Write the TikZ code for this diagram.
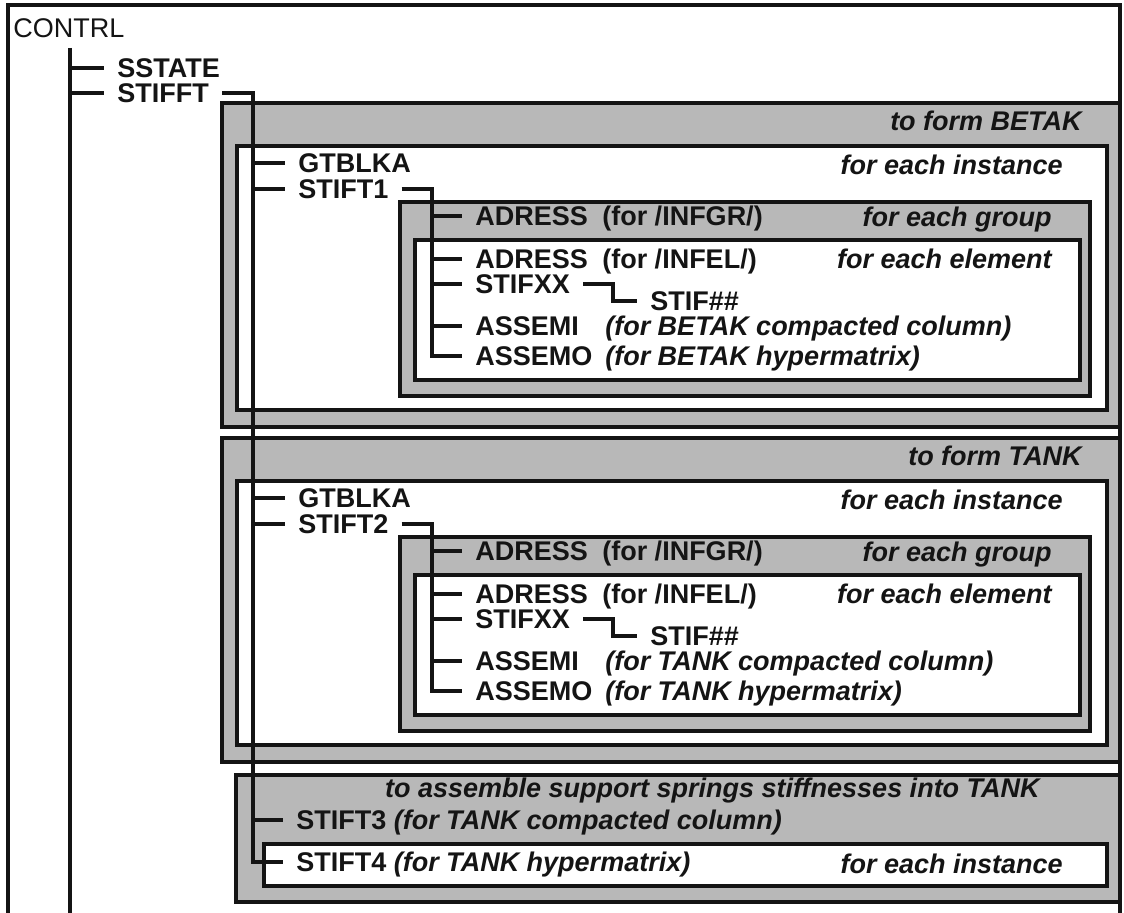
\documentclass[tikz,border=0pt]{standalone}
\usepackage{fontspec}
\setmainfont{Liberation Sans}
\usepackage{tikz}
\definecolor{scanInk}{HTML}{141414}
\definecolor{scanDots}{HTML}{B8B8B8}
\newcommand{\labfont}{\fontsize{19.2}{20}\selectfont}

\begin{document}
\begin{tikzpicture}[
  x=0.025cm, y=-0.025cm,
  font=\labfont\bfseries,
  frame/.style={draw=scanInk, line width=2.2pt},
  shadebox/.style={draw=scanInk, fill=scanDots, line width=3pt},
  plainbox/.style={draw=scanInk, fill=white, line width=3pt},
  tree/.style={draw=scanInk, line width=2.5pt},
  routine/.style={anchor=west, inner xsep=0.325cm, inner ysep=0pt, text height=13.75pt, text depth=0pt, text=scanInk},
  note/.style={routine, inner xsep=0pt, font=\labfont\bfseries\itshape},
  loopnote/.style={note, anchor=east},
  remark/.style={routine, inner xsep=0pt}
]
  \fill[white] (0,0) rectangle (1124,913);
  \useasboundingbox (0,0) rectangle (1124,913);

  % frame of CONTRL
  \draw[frame] (8,913) -- (8,5) -- (1120,5) -- (1120,913);

  % the two assembly loops (BETAK, TANK)
  \foreach \dy/\k/\mtx in {0/1/BETAK, 335/2/TANK} {
    \filldraw[shadebox] (222,103+\dy) rectangle (1120,427+\dy);
    \filldraw[plainbox] (237,146+\dy) rectangle (1107,410+\dy);
    \filldraw[shadebox] (400,202+\dy) rectangle (1090,396+\dy);
    \filldraw[plainbox] (415,240+\dy) rectangle (1080,380+\dy);
    \coordinate (inner\k) at (432,\dy);

    \node[loopnote] (form\k) at (1082,121+\dy) {to form \mtx};
    \node[routine] (gtblka\k) at (285,163+\dy) {GTBLKA};
    \node[loopnote] (inst\k) at (1063,165+\dy) {for each instance};
    \node[routine] (stift\k) at (285,189+\dy) {STIFT\k};
    \node[routine] (adrgr\k) at (462,216+\dy) {ADRESS};
    \node[remark] (infgr\k) at (602,216+\dy) {(for /INFGR/)};
    \node[loopnote] (group\k) at (1052,217+\dy) {for each group};
    \node[routine] (adrel\k) at (462,259+\dy) {ADRESS};
    \node[remark] (infel\k) at (602,259+\dy) {(for /INFEL/)};
    \node[loopnote] (elem\k) at (1052,259+\dy) {for each element};
    \node[routine] (stifxx\k) at (462,284+\dy) {STIFXX};
    \node[routine] (stifnn\k) at (637,301+\dy) {STIF\#\#};
    \node[routine] (assemi\k) at (462,326+\dy) {ASSEMI};
    \node[note] (colm\k) at (605,326+\dy) {(for \mtx\ compacted column)};
    \node[routine] (assemo\k) at (462,356+\dy) {ASSEMO};
    \node[note] (hyper\k) at (605,356+\dy) {(for \mtx\ hypermatrix)};

    \draw[tree] (stift\k.east) -| (assemo\k.west -| inner\k) -- (assemo\k.west);
    \foreach \rt in {adrgr,adrel,stifxx,assemi}
      \draw[tree] (\rt\k.west -| inner\k) -- (\rt\k.west);
    \draw[tree] (stifxx\k.east) -- ++(30,0) |- (stifnn\k.west);
  }

  % support springs
  \filldraw[shadebox] (236,775) rectangle (1120,902);
  \filldraw[plainbox] (264,844) rectangle (1107,886);
  \node[loopnote] (springs) at (1040,788) {to assemble support springs stiffnesses into TANK};
  \node[routine] (stift3) at (283,820) {STIFT3 \textit{(for TANK compacted column)}};
  \node[routine] (stift4) at (283,862) {STIFT4 \textit{(for TANK hypermatrix)}};
  \node[loopnote] (inst3) at (1063,864) {for each instance};

  % top of the tree
  \node[remark, font=\labfont] (contrl) at (13,28) {CONTRL};
  \coordinate (mainSpine) at (70,48);
  \coordinate (stiftSpine) at (253,0);
  \node[routine] (sstate) at (104,68) {SSTATE};
  \node[routine] (stifft) at (104,93) {STIFFT};

  \draw[tree] (mainSpine) -- (70,913);
  \draw[tree] (sstate.west -| mainSpine) -- (sstate.west);
  \draw[tree] (stifft.west -| mainSpine) -- (stifft.west);
  \draw[tree] (stifft.east) -| (stift4.west -| stiftSpine) -- (stift4.west);
  \foreach \k in {1,2} {
    \draw[tree] (gtblka\k.west -| stiftSpine) -- (gtblka\k.west);
    \draw[tree] (stift\k.west -| stiftSpine) -- (stift\k.west);
  }
  \draw[tree] (stift3.west -| stiftSpine) -- (stift3.west);
\end{tikzpicture}
\end{document}
